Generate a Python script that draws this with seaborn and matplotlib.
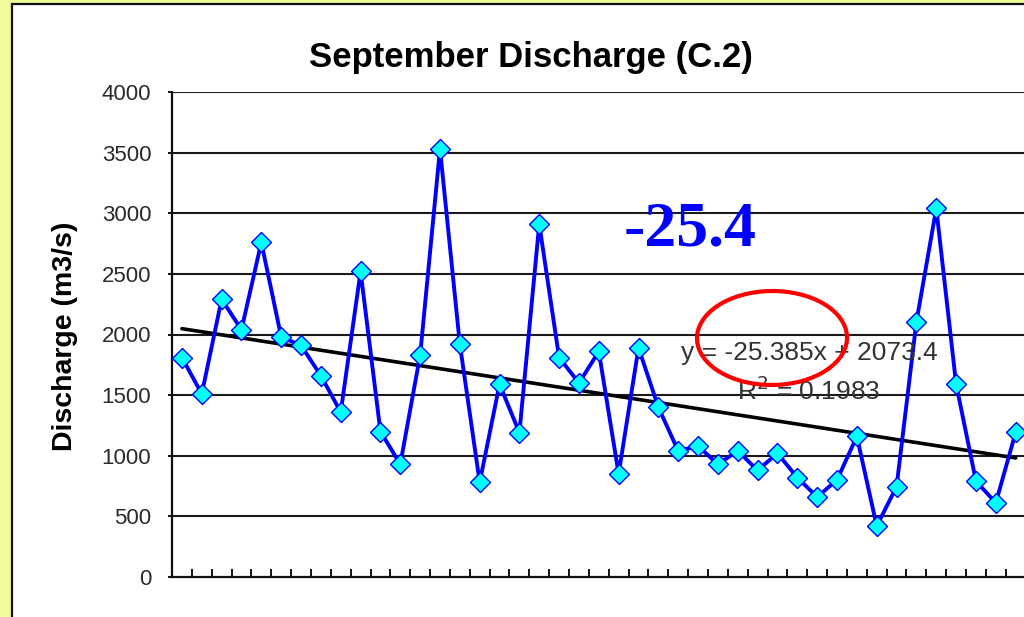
import numpy as np
import pandas as pd
import matplotlib
matplotlib.use("Agg")
import matplotlib.pyplot as plt
from matplotlib.patches import Ellipse, Rectangle
import seaborn as sns

# ---- data ----
categories = list(range(1, 44))
discharge = [1810, 1510, 2290, 2040, 2760, 1980, 1910, 1660, 1360, 2520,
             1200, 930, 1830, 3530, 1920, 780, 1590, 1190, 2910, 1810,
             1600, 1860, 850, 1890, 1400, 1040, 1080, 930, 1040, 880,
             1020, 820, 660, 800, 1160, 420, 745, 2105, 3040, 1590,
             790, 612, 1193]
trend_slope = -25.385
trend_intercept = 2073.4
r_squared = 0.1983
y_ticks = [0, 500, 1000, 1500, 2000, 2500, 3000, 3500, 4000]
title_text = "September Discharge (C.2)"
ylabel_text = "Discharge (m3/s)"
highlight_text = "-25.4"

df = pd.DataFrame({"cat": categories, "q": discharge})
trend = [trend_intercept + trend_slope * c for c in categories]

sns.set_style("white")
plt.rcParams["font.family"] = ["Liberation Sans", "DejaVu Sans"]

W, H = 1024, 617
fig = plt.figure(figsize=(W / 100, H / 100), dpi=100)
fig.patch.set_facecolor("#F0FC9A")

# white chart area with dark border (extends past right/bottom edge)
fig.patches.append(Rectangle((12 / W, -0.05), 1.1, 1 - 4 / H + 0.05,
                             transform=fig.transFigure, facecolor="white",
                             edgecolor="#111111", linewidth=1.6, zorder=-5))

ax = fig.add_axes([172 / W, 1 - 577 / H, (1025.6 - 172) / W, (577 - 92) / H])
ax.set_facecolor("white")

sns.lineplot(data=df, x="cat", y="q", ax=ax, color="#0000FF", linewidth=2.8,
             marker="D", markersize=10, markerfacecolor="#00FFFF",
             markeredgecolor="#0000FF", markeredgewidth=1.0, zorder=4,
             clip_on=False)
ax.plot(categories, trend, color="black", linewidth=2.6, zorder=3)

ax.set_xlim(0.5, 43.5)
ax.set_ylim(0, 4000)
ax.set_yticks(y_ticks)
ax.set_yticklabels([str(v) for v in y_ticks], fontsize=16, color="#2a2a2a")
ax.set_xticks([c + 0.5 for c in categories[:-1]])
ax.set_xticklabels([])
ax.tick_params(axis="x", bottom=True, direction="in", length=5.5, width=1.3,
               color="black")
ax.tick_params(axis="y", left=True, direction="out", length=3, width=1.3,
               color="black", pad=12)

for v in y_ticks[1:]:
    ax.axhline(v, color="#1a1a1a", linewidth=1.5, zorder=1)

for s in ["top", "right"]:
    ax.spines[s].set_visible(False)
for s in ["left", "bottom"]:
    ax.spines[s].set_color("#111111")
    ax.spines[s].set_linewidth(1.6)
ax.set_xlabel("")
ax.set_ylabel("")

# title and y label
fig.text(531 / W, 1 - 58 / H, title_text, ha="center", va="center",
         fontsize=25, fontweight="bold", color="black")
fig.text(65 / W, 1 - 336 / H, ylabel_text, ha="center", va="center",
         rotation=90, fontsize=20.5, fontweight="bold", color="black")

# trendline equation
fig.text(809 / W, 1 - 353 / H, f"y = {trend_slope}x + {trend_intercept}",
         ha="center", va="center", fontsize=19, color="#333333", zorder=5)
fig.text(809 / W, 1 - 391 / H, f"R$^2$ = {r_squared}",
         ha="center", va="center", fontsize=19, color="#333333", zorder=5)

# big highlight number
fig.text(690 / W, 1 - 231 / H, highlight_text, ha="center", va="center",
         fontsize=46, fontweight="bold", color="#0000FF",
         family=["Liberation Serif", "DejaVu Serif"])

# red ellipse
fig.patches.append(Ellipse((772 / W, 1 - 338 / H), 150 / W, 94 / H, angle=-4,
                           transform=fig.transFigure, fill=False,
                           edgecolor="#FF0000", linewidth=3.0, zorder=10))

fig.savefig("out.png", dpi=100, facecolor=fig.get_facecolor())
